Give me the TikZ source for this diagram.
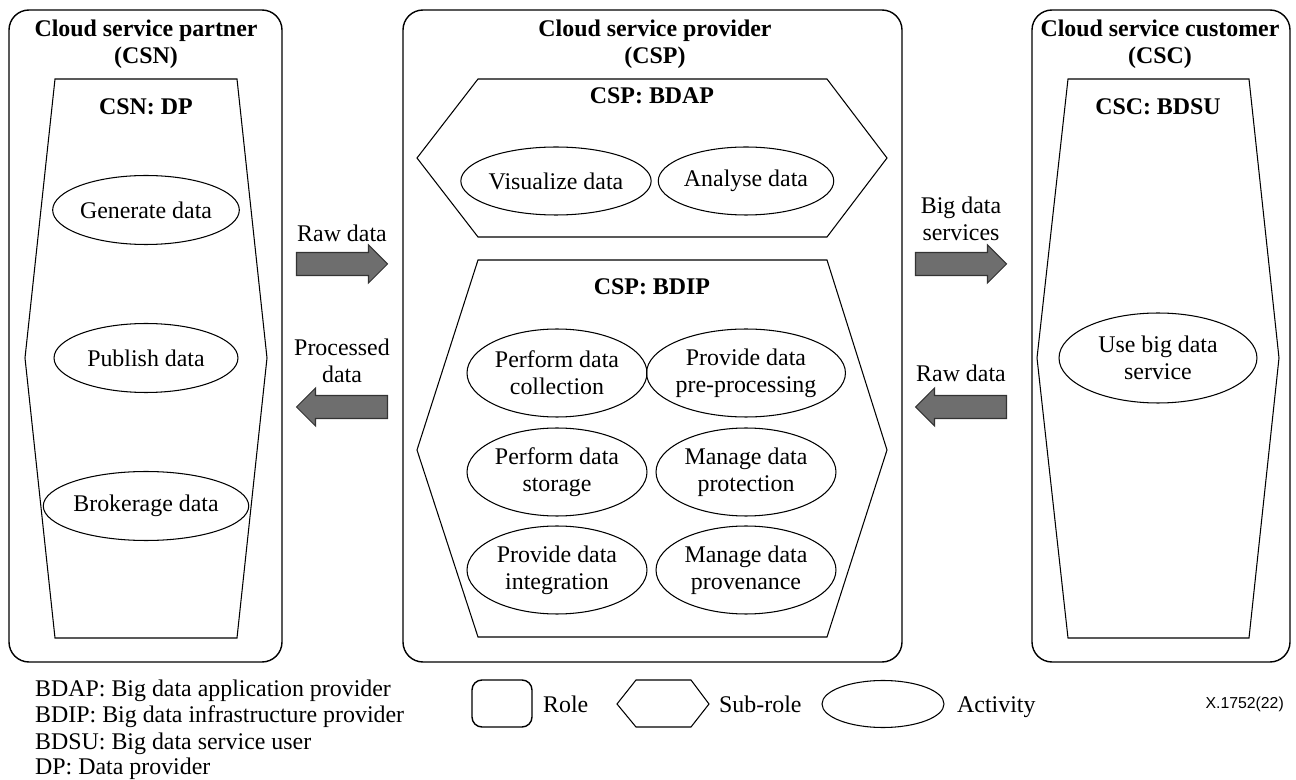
\documentclass[tikz,border=0pt]{standalone}
\usepackage{fontspec}
\setmainfont{Liberation Serif}
\newfontfamily\tagfont{Liberation Sans}
\usetikzlibrary{shapes.geometric}

\definecolor{arrowgray}{RGB}{110,110,110}
\newcommand{\figfont}{\fontsize{13.6}{15.4}\selectfont}

\tikzset{
  role/.style={draw, line width=0.8pt, rounded corners=0.4cm},
  subrole/.style={draw, line width=0.6pt},
  activity/.style={ellipse, draw, line width=0.6pt, inner sep=0pt, align=center, font=\figfont},
  title/.style={align=center, font=\figfont\bfseries},
  flowlabel/.style={align=center, font=\figfont},
  keylabel/.style={anchor=base west, font=\figfont},
  bigarrow/.style={draw=black!80, line width=0.6pt, fill=arrowgray},
}

\begin{document}
\begin{tikzpicture}[x=0.02cm, y=-0.02cm]

\useasboundingbox (0,0) rectangle (1296,780);

% roles
\draw[role] (9,10) rectangle (282,662);
\draw[role] (403,10) rectangle (902,662);
\draw[role] (1032,10) rectangle (1290,662);
\node[title] (csn) at (146,44) {Cloud service partner\\(CSN)};
\node[title] (csp) at (655,44) {Cloud service provider\\(CSP)};
\node[title] (csc) at (1160,44) {Cloud service customer\\(CSC)};

% sub-roles
\draw[subrole] (55,79) -- (237,79) -- (267,358) -- (237,638) -- (55,638) -- (25,358) -- cycle;
\draw[subrole] (478,79) -- (827,79) -- (887,158) -- (827,237) -- (478,237) -- (417,158) -- cycle;
\draw[subrole] (478,260) -- (827,260) -- (887,450) -- (827,637) -- (478,637) -- (417,450) -- cycle;
\draw[subrole] (1068,79) -- (1249,79) -- (1279,358) -- (1249,638) -- (1068,638) -- (1037,358) -- cycle;
\node[title] (dp) at (146,107) {CSN: DP};
\node[title] (bdap) at (652,96) {CSP: BDAP};
\node[title] (bdip) at (652,287) {CSP: BDIP};
\node[title] (bdsu) at (1158,107) {CSC: BDSU};

% activities
\node[activity, minimum width=3.68cm, minimum height=1.38cm] (gen) at (146,210) {Generate data};
\node[activity, minimum width=3.68cm, minimum height=1.38cm] (pub) at (146,358) {Publish data};
\node[activity, minimum width=3.68cm, minimum height=1.38cm] (brk) at (146,506) {Brokerage data};

\node[activity, minimum width=3.32cm, minimum height=1.36cm] (vis) at (556,181) {Visualize data};
\node[activity, minimum width=3.32cm, minimum height=1.36cm] (ana) at (746,181) {Analyse data};

\node[activity, minimum width=3.6cm, minimum height=1.76cm] (col) at (557,373) {Perform data\\collection};
\node[activity, minimum width=3.6cm, minimum height=1.76cm] (pre) at (746,373) {Provide data\\pre-processing};
\node[activity, minimum width=3.6cm, minimum height=1.76cm] (sto) at (557,472) {Perform data\\storage};
\node[activity, minimum width=3.6cm, minimum height=1.76cm] (pro) at (746,472) {Manage data\\protection};
\node[activity, minimum width=3.6cm, minimum height=1.76cm] (int) at (557,570) {Provide data\\integration};
\node[activity, minimum width=3.6cm, minimum height=1.76cm] (prv) at (746,570) {Manage data\\provenance};

\node[activity, minimum width=3.96cm, minimum height=1.8cm] (use) at (1158,358) {Use big data\\service};

% flows
\node[flowlabel] (rawin) at (342,233) {Raw data};
\node[flowlabel] (procout) at (342,361) {Processed\\data};
\node[flowlabel] (bdsout) at (961,219) {Big data\\services};
\node[flowlabel] (rawback) at (961,373) {Raw data};
\coordinate (a1) at (342,264);
\coordinate (a2) at (342,407);
\coordinate (a3) at (961,264);
\coordinate (a4) at (961,407);
\draw[bigarrow] (a1) ++(-45.5,-11.5) -- ++(72,0) -- ++(0,-7.5) -- ++(19,19) -- ++(-19,19) -- ++(0,-7.5) -- ++(-72,0) -- cycle;
\draw[bigarrow] (a3) ++(-45.5,-11.5) -- ++(72,0) -- ++(0,-7.5) -- ++(19,19) -- ++(-19,19) -- ++(0,-7.5) -- ++(-72,0) -- cycle;
\draw[bigarrow] (a2) ++(45.5,-11.5) -- ++(-72,0) -- ++(0,-7.5) -- ++(-19,19) -- ++(19,19) -- ++(0,-7.5) -- ++(72,0) -- cycle;
\draw[bigarrow] (a4) ++(45.5,-11.5) -- ++(-72,0) -- ++(0,-7.5) -- ++(-19,19) -- ++(19,19) -- ++(0,-7.5) -- ++(72,0) -- cycle;

% legend
\node[keylabel] (l1) at (29,697) {BDAP: Big data application provider};
\node[keylabel] (l2) at (29,723) {BDIP: Big data infrastructure provider};
\node[keylabel] (l3) at (29,749) {BDSU: Big data service user};
\node[keylabel] (l4) at (29,774) {DP: Data provider};

\draw[role, rounded corners=0.2cm] (472,680) rectangle (532,727);
\node[keylabel] (krole) at (537,712) {Role};
\draw[subrole] (617,704) -- (636,680) -- (691,680) -- (709,704) -- (691,727) -- (636,727) -- cycle;
\node[keylabel] (ksub) at (713,712) {Sub-role};
\node[activity, minimum width=2.44cm, minimum height=0.94cm] (kact) at (883,704) {};
\node[keylabel] (kactl) at (951,712) {Activity};

\node[anchor=east, font=\tagfont\fontsize{9}{11}\selectfont] (fig) at (1290,704) {X.1752(22)};

\end{tikzpicture}
\end{document}
